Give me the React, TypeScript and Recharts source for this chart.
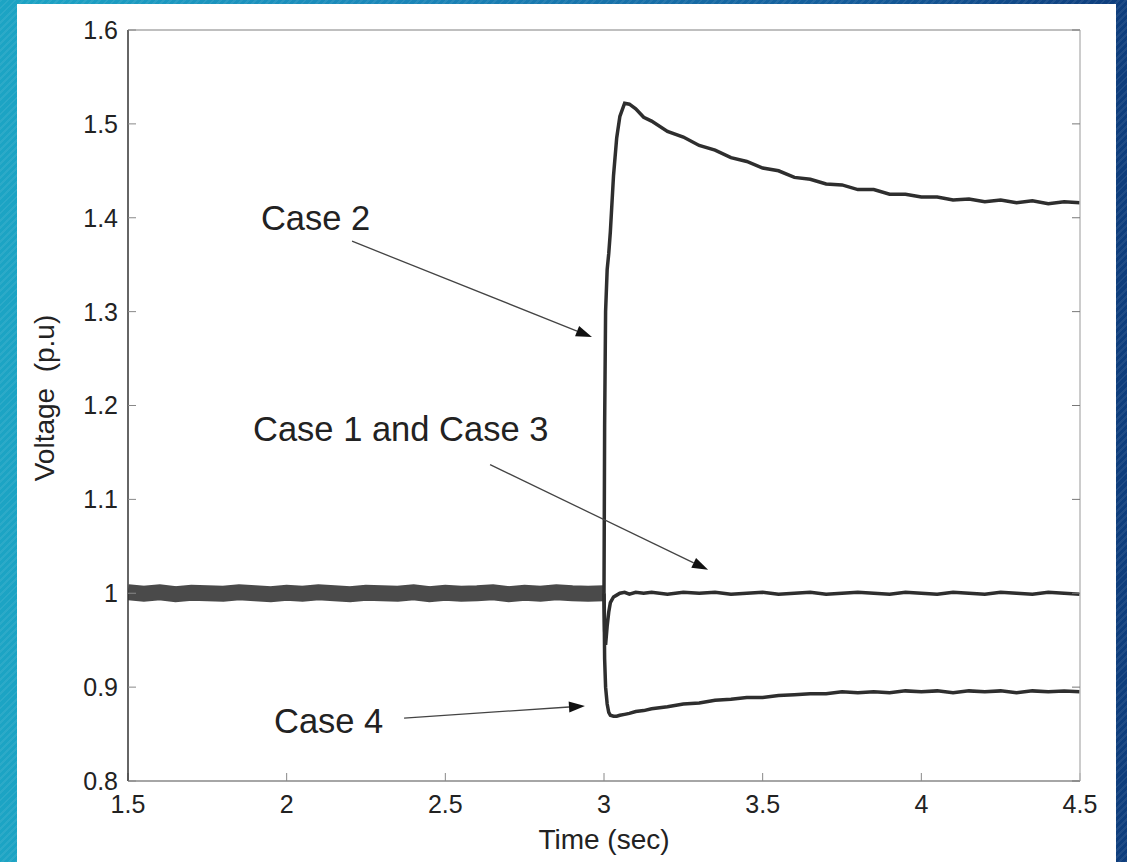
import React from 'react';
import { LineChart, Line, XAxis, YAxis, ReferenceLine, ReferenceDot } from 'recharts';

// pre-disturbance: all four cases sit on top of each other around 1.0 p.u.
const preTime = [
  1.5, 1.55, 1.6, 1.65, 1.7, 1.75, 1.8, 1.85, 1.9, 1.95, 2.0, 2.05, 2.1, 2.15, 2.2, 2.25,
  2.3, 2.35, 2.4, 2.45, 2.5, 2.55, 2.6, 2.65, 2.7, 2.75, 2.8, 2.85, 2.9, 2.95, 3.0,
];
const preVoltage = [
  1.001, 0.9995, 1.001, 0.999, 1.0005, 1.0, 0.9995, 1.001, 1.0, 0.999, 1.0005, 0.9995, 1.001, 1.0, 0.999, 1.0005,
  1.0, 0.9995, 1.001, 0.999, 1.0005, 0.9995, 1.0, 1.001, 0.999, 1.0005, 0.9995, 1.001, 1.0, 0.9995, 1.0,
];

const postTime = [
  3.0, 3.002, 3.005, 3.01, 3.015, 3.02, 3.03, 3.04, 3.05, 3.065, 3.08, 3.1, 3.125, 3.15,
  3.2, 3.25, 3.3, 3.35, 3.4, 3.45, 3.5, 3.55, 3.6, 3.65, 3.7, 3.75, 3.8, 3.85, 3.9, 3.95,
  4.0, 4.05, 4.1, 4.15, 4.2, 4.25, 4.3, 4.35, 4.4, 4.45, 4.5,
];
const case13 = [
  1.0, 0.96, 0.945, 0.965, 0.98, 0.99, 0.996, 0.998, 1.0, 1.001, 0.999, 1.001, 1.0, 1.001,
  0.999, 1.001, 1.0, 1.001, 0.999, 1.0, 1.001, 0.999, 1.0, 1.001, 0.999, 1.0, 1.001, 1.0, 0.999, 1.001,
  1.0, 0.999, 1.001, 1.0, 0.999, 1.001, 1.0, 0.999, 1.001, 1.0, 0.999,
];
const case2 = [
  1.0, 1.18, 1.3, 1.345, 1.362, 1.385, 1.445, 1.485, 1.508, 1.522, 1.521, 1.516, 1.507, 1.503,
  1.492, 1.486, 1.477, 1.472, 1.464, 1.46, 1.453, 1.45, 1.443, 1.441, 1.436, 1.435, 1.43, 1.43, 1.425, 1.425,
  1.422, 1.422, 1.419, 1.42, 1.417, 1.419, 1.416, 1.418, 1.415, 1.417, 1.416,
];
const case4 = [
  1.0, 0.93, 0.9, 0.882, 0.873, 0.87, 0.869, 0.869, 0.87, 0.871, 0.872, 0.874, 0.875, 0.877,
  0.879, 0.882, 0.883, 0.886, 0.887, 0.889, 0.889, 0.891, 0.892, 0.893, 0.893, 0.895, 0.894, 0.895, 0.894, 0.896,
  0.895, 0.896, 0.894, 0.896, 0.895, 0.896, 0.894, 0.896, 0.895, 0.896, 0.895,
];

const xTicks = [1.5, 2, 2.5, 3, 3.5, 4, 4.5];
const yTicks = [0.8, 0.9, 1, 1.1, 1.2, 1.3, 1.4, 1.5, 1.6];

// text anchor (baseline-left) and arrow from/to, in data units
const notes = [
  { text: 'Case 2', x: 1.919, y: 1.387, from: [2.206, 1.375], to: [2.962, 1.273] },
  { text: 'Case 1 and Case 3', x: 1.894, y: 1.162, from: [2.641, 1.137], to: [3.328, 1.025] },
  { text: 'Case 4', x: 1.96, y: 0.851, from: [2.37, 0.867], to: [2.94, 0.88] },
];

const font = '"Liberation Sans", Arial, Helvetica, sans-serif';

const preData = preTime.map((t, i) => ({ t, v: preVoltage[i] }));
const postData = (vals: number[]) => postTime.map((t, i) => ({ t, v: vals[i] }));

const Arrow = (p: any) => {
  const { x1, y1, x2, y2 } = p;
  const a = Math.atan2(y2 - y1, x2 - x1);
  const len = 16;
  const w = 5.5;
  const bx = x2 - len * Math.cos(a);
  const by = y2 - len * Math.sin(a);
  const nx = -Math.sin(a) * w;
  const ny = Math.cos(a) * w;
  return (
    <g>
      <line x1={x1} y1={y1} x2={bx} y2={by} stroke="#444" strokeWidth={1.3} />
      <polygon points={`${x2},${y2} ${bx + nx},${by + ny} ${bx - nx},${by - ny}`} fill="#111" />
    </g>
  );
};

const noteText = (text: string) => (p: any) => (
  <text x={p.cx} y={p.cy} fill="#222" fontSize={34.5} fontFamily={font}>
    {text}
  </text>
);

const blank = () => '';

const series = [case13, case2, case4];

export default function App() {
  return (
    <div
      style={{
        position: 'absolute',
        left: 0,
        top: 0,
        width: 1127,
        height: 862,
        overflow: 'hidden',
        background:
          'repeating-linear-gradient(135deg, rgba(255,255,255,0.07) 0 2px, rgba(0,0,0,0) 2px 5px), linear-gradient(90deg, #1ca4c4 0%, #1a86b8 35%, #145c9a 75%, #0e3d7c 100%)',
      }}
    >
      <div style={{ position: 'absolute', left: 17, top: 4, width: 1099, height: 858, background: '#fff' }} />
      <div style={{ position: 'absolute', left: 0, top: 0 }}>
        <LineChart width={1127} height={862} margin={{ top: 0, right: 0, bottom: 0, left: 0 }}>
          <XAxis
            type="number"
            dataKey="t"
            domain={[1.5, 4.5]}
            ticks={xTicks}
            interval={0}
            allowDataOverflow
            height={81}
            tickSize={-8}
            tickMargin={22}
            axisLine={{ stroke: '#888', strokeWidth: 1.5 }}
            tickLine={{ stroke: '#888' }}
            tick={{ fill: '#222', fontSize: 25, fontFamily: font }}
          />
          <XAxis
            xAxisId="top"
            orientation="top"
            type="number"
            domain={[1.5, 4.5]}
            ticks={xTicks}
            interval={0}
            allowDataOverflow
            height={30}
            tickSize={-8}
            tickFormatter={blank}
            axisLine={{ stroke: '#aaa', strokeWidth: 1.5 }}
            tickLine={{ stroke: '#999' }}
          />
          <YAxis
            type="number"
            domain={[0.8, 1.6]}
            ticks={yTicks}
            interval={0}
            allowDataOverflow
            width={128}
            tickSize={-8}
            tickMargin={18}
            axisLine={{ stroke: '#333', strokeWidth: 1.5 }}
            tickLine={{ stroke: '#888' }}
            tick={{ fill: '#222', fontSize: 25, fontFamily: font }}
          />
          <YAxis
            yAxisId="right"
            orientation="right"
            type="number"
            domain={[0.8, 1.6]}
            ticks={yTicks}
            interval={0}
            allowDataOverflow
            width={47}
            tickSize={-8}
            tickFormatter={blank}
            axisLine={{ stroke: '#bbb', strokeWidth: 1.5 }}
            tickLine={{ stroke: '#777' }}
          />
          <Line data={preData} dataKey="v" type="linear" stroke="#4a4a4a" strokeWidth={16} dot={false} isAnimationActive={false} />
          {series.map((vals, i) => (
            <Line
              key={'s' + i}
              data={postData(vals)}
              dataKey="v"
              type="linear"
              stroke="#2e2e2e"
              strokeWidth={3.5}
              dot={false}
              isAnimationActive={false}
            />
          ))}
          {notes.map((n) => (
            <ReferenceLine
              key={'a' + n.text}
              segment={[{ x: n.from[0], y: n.from[1] }, { x: n.to[0], y: n.to[1] }]}
              shape={Arrow}
            />
          ))}
          {notes.map((n) => (
            <ReferenceDot key={'t' + n.text} x={n.x} y={n.y} r={0} shape={noteText(n.text)} />
          ))}
        </LineChart>
      </div>
      <div
        style={{
          position: 'absolute',
          left: 504,
          width: 200,
          top: 824,
          textAlign: 'center',
          fontFamily: font,
          fontSize: 28,
          color: '#222',
          lineHeight: '32px',
        }}
      >
        Time (sec)
      </div>
      <div
        style={{
          position: 'absolute',
          left: 45 - 150,
          top: 398 - 16,
          width: 300,
          textAlign: 'center',
          fontFamily: font,
          fontSize: 28,
          color: '#222',
          lineHeight: '32px',
          whiteSpace: 'pre',
          transform: 'rotate(-90deg)',
        }}
      >
        {'Voltage  (p.u)'}
      </div>
    </div>
  );
}
